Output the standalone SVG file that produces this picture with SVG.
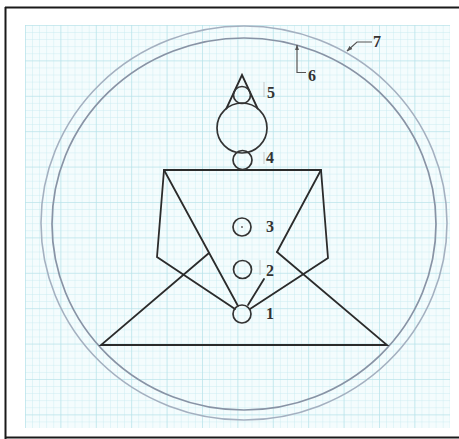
<svg xmlns="http://www.w3.org/2000/svg" width="459" height="439" viewBox="0 0 459 439">
  <defs>
    <pattern id="gMinor" width="7.08" height="7.08" patternUnits="userSpaceOnUse" x="25" y="25">
      <path d="M7.08 0H0V7.08" fill="none" stroke="#c9ebf1" stroke-width="0.9"/>
    </pattern>
    <pattern id="gMajor" width="35.4" height="35.4" patternUnits="userSpaceOnUse" x="25" y="25">
      <path d="M35.4 0H0V35.4" fill="none" stroke="#b3e0e8" stroke-width="1.1"/>
    </pattern>
    <marker id="arr" viewBox="0 0 10 10" refX="9" refY="5" markerWidth="6" markerHeight="6" orient="auto-start-reverse" markerUnits="userSpaceOnUse">
      <path d="M0 1.5L10 5L0 8.5z" fill="#555"/>
    </marker>
    <style>
      .fig{fill:none;stroke:#2b2b2b;stroke-width:1.8;stroke-linejoin:miter;stroke-linecap:round}
      .chk{fill:none;stroke:#333;stroke-width:1.7}
      .lbl{font-family:"Liberation Serif","Times New Roman",serif;font-weight:bold;font-size:16px;fill:#333}
      .tick{stroke:#bbb;stroke-width:0.8}
      .ring{fill:none}
      .conn{fill:none;stroke:#555;stroke-width:1.2}
    </style>
  </defs>
  <rect width="459" height="439" fill="#fff"/>
  <!-- graph paper -->
  <rect x="25" y="25" width="425" height="403" fill="#f4fcfd"/>
  <rect x="25" y="25" width="425" height="403" fill="url(#gMinor)"/>
  <rect x="25" y="25" width="425" height="403" fill="url(#gMajor)"/>
  <!-- frame -->
  <path d="M5 7.5H459M5.5 7V439M5 437.5H459" fill="none" stroke="#1a1a1a" stroke-width="2"/>

  <g id="outer-ring">
    <ellipse class="ring" cx="244" cy="223" rx="203" ry="197" stroke="#a4b0c0" stroke-width="1.6"/>
  </g>
  <g id="inner-ring">
    <ellipse class="ring" cx="244" cy="224" rx="192" ry="186" stroke="#8893a5" stroke-width="1.7"/>
  </g>

  <g id="body">
    <path class="fig" d="M164 170H321"/>
    <path class="fig" d="M164 170L157 257L235 309"/>
    <path class="fig" d="M321 170L328 258L250 309"/>
    <path class="fig" d="M164 170L238 306"/>
    <path class="fig" d="M321 170L277 252"/>
    <path class="fig" d="M264 279L248 305"/>
    <path class="fig" d="M209 253L101 345H387L277 252"/>
  </g>

  <g id="head">
    <path class="fig" d="M226.4 108.5L242 75L257.6 108.5" stroke-width="1.4"/>
    <circle class="chk" cx="242" cy="128" r="25"/>
  </g>

  <g id="chakra-5">
    <circle class="chk" cx="242" cy="95" r="8.5"/>
    <line class="tick" x1="264" y1="82" x2="264" y2="97"/>
    <text class="lbl" x="267" y="98">5</text>
  </g>
  <g id="chakra-4">
    <circle class="chk" cx="242.5" cy="160" r="9.5"/>
    <line class="tick" x1="264" y1="152" x2="264" y2="164"/>
    <text class="lbl" x="266" y="163">4</text>
  </g>
  <g id="chakra-3">
    <circle class="chk" cx="242" cy="227" r="9"/>
    <circle cx="242" cy="227" r="0.9" fill="#555"/>
    <text class="lbl" x="266" y="232">3</text>
  </g>
  <g id="chakra-2">
    <circle class="chk" cx="242.5" cy="269.5" r="9"/>
    <line class="tick" x1="260" y1="260" x2="260" y2="275"/>
    <text class="lbl" x="266" y="276">2</text>
  </g>
  <g id="chakra-1">
    <circle class="chk" cx="242" cy="314" r="9"/>
    <text class="lbl" x="266" y="319">1</text>
  </g>

  <g id="label-6">
    <text class="lbl" x="308" y="81">6</text>
  </g>
  <g id="label-7">
    <text class="lbl" x="373" y="47">7</text>
  </g>

  <g id="connectors">
    <path class="conn" d="M306 72.5H297V45" marker-end="url(#arr)"/>
    <path class="conn" d="M372 42H357L347 51" marker-end="url(#arr)"/>
  </g>
</svg>
